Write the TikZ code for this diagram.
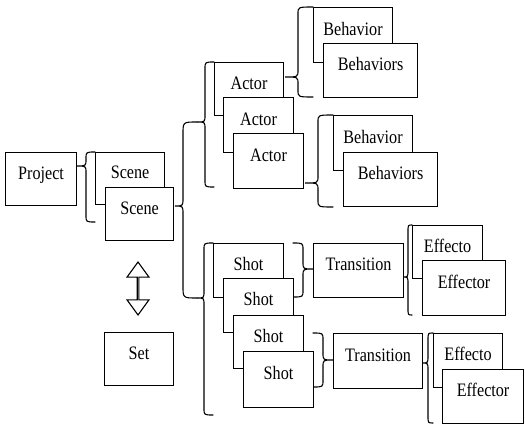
\documentclass[tikz,border=0pt]{standalone}
\usepackage{fontspec}
\setmainfont{Liberation Serif}[FakeStretch=0.85]
\usetikzlibrary{shapes.arrows}

% brace: tip x, tip y, spine x, top y, bottom y, end x
\newcommand{\grpbrace}[6]{%
  \draw[brace] (#6,#4) .. controls (#3,#4) .. (#3,#4+7) -- (#3,#2-7)
    .. controls (#3,#2) .. (#1,#2) .. controls (#3,#2) .. (#3,#2+7)
    -- (#3,#5-7) .. controls (#3,#5) .. (#6,#5);}

\begin{document}
\begin{tikzpicture}[x=1pt, y=-1pt, line width=1.1pt]
\tikzstyle{box}=[draw, fill=white, anchor=north west, inner sep=0pt,
                 text height=8pt, text depth=8pt,
                 font=\fontsize{19}{22}\selectfont]
\tikzstyle{brace}=[line cap=round]
\useasboundingbox (0,0) rectangle (525,425);

% braces
\grpbrace{77}{166}{86}{152}{222}{95}
\draw[brace] (197,122) .. controls (183,122) .. (183,134) -- (183,198)
    .. controls (183,206) .. (175,206) .. controls (183,206) .. (183,214)
    -- (183,286) .. controls (183,298) .. (197,298);
\grpbrace{197}{122}{205}{62}{187}{214}
\grpbrace{197}{298}{204}{243}{415}{213}
\grpbrace{285}{77}{298}{7}{97}{313}
\grpbrace{305}{183}{318}{115}{207}{333}
\grpbrace{313}{269}{303}{243}{297}{293}
\grpbrace{333}{360}{323}{333}{387}{313}
\grpbrace{403}{277}{408}{225}{315}{412}
\grpbrace{422}{363}{428}{333}{423}{433}

% project and scenes
\node[box, minimum width=71, minimum height=53] (project) at (5,152) {Project};
\node[box, minimum width=69, minimum height=52] (sceneA) at (95,152) {Scene};
\node[box, minimum width=68, minimum height=53] (sceneB) at (105,187) {Scene};
\node[box, minimum width=69, minimum height=53] (set) at (104,332) {Set};
\node[double arrow, draw, rotate=90, minimum height=53, minimum width=22,
      double arrow head extend=7, double arrow tip angle=72, inner sep=0pt]
      (link) at (138,288.5) {};

% actors
\node[box, minimum width=69, minimum height=53] (actorA) at (214,62) {Actor};
\node[box, minimum width=70, minimum height=55] (actorB) at (223,97) {Actor};
\node[box, minimum width=70, minimum height=55] (actorC) at (233,133) {Actor};
\node[box, minimum width=79, minimum height=55] (behavA) at (313,7) {Behavior};
\node[box, minimum width=94, minimum height=54] (behavsA) at (323,43) {Behaviors};
\node[box, minimum width=79, minimum height=55] (behavB) at (333,115) {Behavior};
\node[box, minimum width=94, minimum height=54] (behavsB) at (343,152) {Behaviors};

% shots
\node[box, minimum width=70, minimum height=54] (shotA) at (213,243) {Shot};
\node[box, minimum width=70, minimum height=54] (shotB) at (223,278) {Shot};
\node[box, minimum width=70, minimum height=53] (shotC) at (233,315) {Shot};
\node[box, minimum width=70, minimum height=56] (shotD) at (243,351) {Shot};
\node[box, minimum width=90, minimum height=54] (transA) at (313,243) {Transition};
\node[box, minimum width=89, minimum height=55] (transB) at (333,333) {Transition};
\node[box, minimum width=70, minimum height=53] (effA) at (412,225) {Effecto};
\node[box, minimum width=83, minimum height=55] (effsA) at (422,260) {Effector};
\node[box, minimum width=69, minimum height=54] (effB) at (433,333) {Effecto};
\node[box, minimum width=81, minimum height=54] (effsB) at (442,369) {Effector};
\end{tikzpicture}
\end{document}
